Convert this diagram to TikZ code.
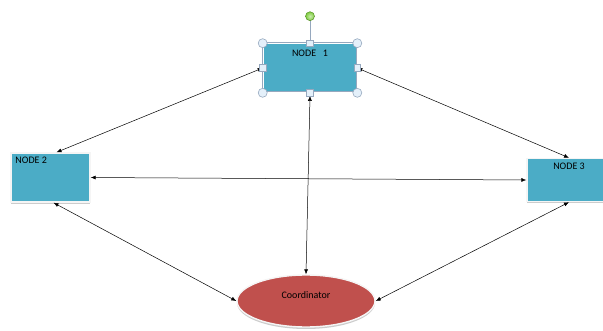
\documentclass[tikz,border=0pt]{standalone}
\usepackage{fontspec}
\setmainfont{Carlito}
\usetikzlibrary{arrows.meta, positioning, calc, shapes.geometric, shadows}
\definecolor{NodeBlue}{RGB}{75,172,198}
\definecolor{CoordRed}{RGB}{192,80,77}
\definecolor{HandleEdge}{RGB}{150,168,190}
\definecolor{HandleFill}{RGB}{228,240,250}
\definecolor{KnobGreen}{RGB}{125,205,60}

\begin{document}
\begin{tikzpicture}[x=1pt, y=-1pt]
	\fontsize{10}{12}\selectfont
	\tikzstyle{box} = [
	rectangle,
	fill=NodeBlue,
	draw=white!92!gray,
	line width=1.4pt,
	drop shadow={shadow xshift=0pt, shadow yshift=-2pt, opacity=.4}
	]
	\tikzstyle{selbox} = [
	rectangle,
	fill=NodeBlue,
	draw=HandleEdge,
	double=white,
	double distance=.8pt,
	line width=.6pt
	]
	\tikzstyle{coord} = [
	ellipse,
	fill=CoordRed,
	draw=white!92!gray,
	line width=1.4pt,
	minimum width=138pt,
	minimum height=52pt,
	drop shadow={shadow xshift=0pt, shadow yshift=-2pt, opacity=.4}
	]
	\tikzstyle{link} = [{Latex[length=5pt,width=4pt]}-{Latex[length=5pt,width=4pt]}, line width=.5pt]
	\tikzstyle{hcirc} = [circle, draw=HandleEdge, fill=HandleFill, line width=.6pt, minimum size=9pt, inner sep=0pt]
	\tikzstyle{hsq} = [rectangle, draw=HandleEdge, fill=HandleFill, line width=.6pt, minimum size=6.5pt, inner sep=0pt]
	
	\useasboundingbox (0,0) rectangle (603,331);
	
	\node[selbox, minimum width=94pt, minimum height=49pt,
	label={[anchor=north, inner sep=0pt, yshift=-7pt]north:NODE\ \ \ 1}] (n1) at (310,68) {};
	\node[box, minimum width=79pt, minimum height=49pt,
	label={[anchor=north west, inner sep=5pt]north west:NODE 2}] (n2) at (50.5,177.5) {};
	\node[box, minimum width=84pt, minimum height=43pt,
	label={[anchor=north, inner sep=5pt]north:NODE 3}] (n3) at (569,180) {};
	\node[coord, label={[yshift=6pt]center:Coordinator}] (co) at (306,301) {};
	
	\draw[link] (n1.west) to ([xshift=6pt]n2.north);
	\draw[link] (n1.east) to (n3.north);
	\draw[link] ([yshift=-3pt]n1.south) to (co.north);
	\draw[link] (n2.east) to (n3.west);
	\draw[link] ([xshift=3pt]n2.south) to (co.west);
	\draw[link] (n3.south) to (co.east);
	
	% selection handles around node 1
	\coordinate[above=27pt of n1.north] (knob);
	\draw[HandleEdge, line width=.8pt] (n1.north) -- (knob);
	\node[circle, draw=KnobGreen!70!black, inner color=KnobGreen!40, outer color=KnobGreen,
	minimum size=9pt, inner sep=0pt, line width=.5pt] (rot) at (knob) {};
	\foreach \a/\nm in {north west/hnw, north east/hne, south west/hsw, south east/hse}
	\node[hcirc] (\nm) at (n1.\a) {};
	\foreach \a/\nm in {north/hn, south/hs, west/hw, east/he}
	\node[hsq] (\nm) at (n1.\a) {};
\end{tikzpicture}
\end{document}
